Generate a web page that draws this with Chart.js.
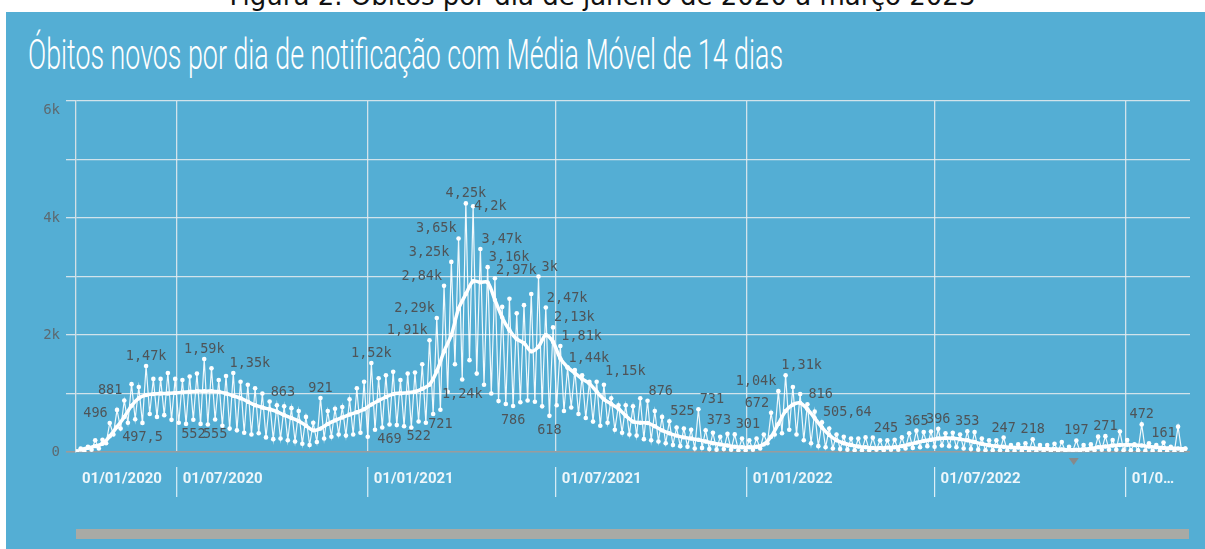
<!DOCTYPE html>
<html lang="pt-BR">
<head>
<meta charset="utf-8">
<title>Óbitos por dia</title>
<script src="https://cdn.jsdelivr.net/npm/chart.js@4.4.1/dist/chart.umd.min.js"></script>
<style>
  html, body { margin: 0; padding: 0; background: #fff; width: 1205px; height: 549px; overflow: hidden; }
  #legenda { position: absolute; left: 0; width: 1205px; top: -14px; text-align: center; white-space: nowrap;
             font-family: "DejaVu Sans"; font-size: 21px; line-height: 21px; color: #111; }
  #painel { position: absolute; left: 6px; top: 12px; right: 0; bottom: 0; background: #54aed4; }
  #titulo { position: absolute; left: 28px; top: 34px; white-space: nowrap; transform-origin: 0 0;
            font-family: Roboto; font-weight: 300; font-size: 42px; line-height: 42px; color: #fff; }
  #rolagem { position: absolute; left: 76px; width: 1113px; top: 529px; height: 10px; background: #a9aaa5; }
  #grafico { position: absolute; left: 0; top: 0; }
</style>
</head>
<body>
<div id="legenda"><span>Figura 2. Óbitos por dia de janeiro de 2020 a março 2023</span></div>
<div id="painel"></div>
<div id="titulo">Óbitos novos por dia de notificação com Média Móvel de 14 dias</div>
<div id="rolagem"></div>
<canvas id="grafico" width="1205" height="549"></canvas>
<script>
// primeira semana da série (dia de menor registro de cada semana)
const inicioSerie = '2020-03-27';

// maior valor diário de cada semana
const obitosAltos = [
  60, 90, 200, 210, 496, 720, 881, 1160, 1110, 1470,
  1250, 1250, 1350, 1250, 1230, 1290, 1340, 1590, 1430, 1230,
  1300, 1350, 1200, 1150, 1090, 1000, 863, 800, 780, 750,
  700, 600, 500, 921, 700, 740, 770, 900, 1090, 1200,
  1520, 1260, 1310, 1370, 1230, 1340, 1360, 1500, 1910, 2290,
  2840, 3250, 3650, 4250, 4200, 3470, 3160, 2970, 2480, 2620,
  2370, 2510, 2700, 3000, 2470, 2130, 1810, 1440, 1400, 1310,
  1200, 1200, 1150, 920, 800, 800, 780, 920, 876, 700,
  600, 525, 420, 400, 380, 731, 373, 330, 260, 310,
  301, 230, 200, 230, 300, 672, 1040, 1310, 1110, 990,
  816, 690, 505.64, 400, 300, 260, 230, 230, 250, 245,
  200, 200, 210, 250, 320, 365, 340, 350, 396, 320,
  330, 300, 353, 340, 230, 200, 200, 247, 120, 130,
  150, 218, 120, 120, 140, 170, 90, 197, 120, 130,
  262, 271, 205, 350, 205, 130, 472, 150, 120, 161,
  91, 433, 60
];

// menor valor diário de cada semana
const obitosBaixos = [
  10, 20, 40, 60, 150, 300, 400, 500, 560, 497.5,
  650, 600, 630, 550, 500, 480, 552, 480, 470, 555,
  450, 400, 370, 330, 300, 320, 250, 220, 230, 200,
  180, 140, 120, 170, 230, 260, 300, 280, 300, 330,
  260, 380, 420, 469, 460, 440, 420, 522, 500, 650,
  721, 1030, 1500, 1240, 1570, 1340, 1150, 1000, 870, 820,
  786, 850, 880, 860, 780, 618, 800, 700, 760, 650,
  580, 520, 450, 500, 380, 330, 300, 280, 220, 200,
  180, 150, 120, 100, 90, 60, 70, 50, 40, 50,
  40, 30, 30, 40, 60, 150, 300, 320, 380, 300,
  200, 150, 100, 80, 60, 50, 40, 30, 30, 30,
  40, 30, 40, 40, 60, 70, 80, 100, 90, 110,
  100, 80, 60, 50, 40, 30, 30, 30, 20, 20,
  20, 20, 15, 15, 15, 15, 10, 10, 15, 20,
  30, 40, 40, 40, 30, 30, 30, 20, 20, 20,
  15, 15, 10
];

// média móvel de 14 dias (um valor por semana)
const mediaMovel = [
  40, 70, 100, 140, 270, 430, 600, 790, 920, 975,
  990, 1000, 1000, 1010, 1020, 1030, 1040, 1040, 1040, 1030,
  1000, 960, 920, 860, 800, 760, 730, 690, 630, 580,
  530, 450, 370, 400, 480, 540, 590, 640, 680, 730,
  810, 880, 940, 990, 1005, 1015, 1030, 1080, 1150, 1380,
  1720, 2000, 2450, 2700, 2920, 2900, 2900, 2600, 2300, 2080,
  1930, 1860, 1720, 1800, 2000, 1880, 1600, 1450, 1350, 1250,
  1170, 1030, 900, 820, 740, 620, 520, 500, 495, 440,
  370, 320, 280, 250, 230, 210, 180, 150, 130, 110,
  90, 80, 80, 90, 130, 260, 480, 700, 810, 840,
  730, 580, 420, 290, 200, 150, 120, 95, 80, 70,
  70, 75, 80, 100, 130, 160, 190, 210, 230, 240,
  235, 220, 200, 170, 140, 115, 100, 90, 80, 75,
  70, 65, 60, 55, 50, 45, 40, 40, 45, 60,
  80, 95, 110, 120, 125, 120, 110, 95, 80, 70,
  65, 60, 55
];

// semanas cujos valores aparecem escritos no gráfico
const semanasRotuloAlto = [4, 6, 9, 17, 21, 26, 33, 40, 48, 49, 50, 51, 52, 53, 54, 55, 56, 57,
  63, 64, 65, 66, 67, 72, 78, 81, 85, 86, 90, 95, 96, 97, 100, 102, 109, 115, 118, 122,
  127, 131, 137, 141, 146, 149];
const semanasRotuloBaixo = [9, 16, 19, 43, 47, 50, 53, 60, 65];

// eixos
const inicioEixo = '2020-03-26';
const fimEixo = '2023-03-04';
const marcosEixoX = ['2020-01-01', '2020-07-01', '2021-01-01', '2021-07-01', '2022-01-01', '2022-07-01', '2023-01-01'];
const rotulosEixoX = ['01/01/2020', '01/07/2020', '01/01/2021', '01/07/2021', '01/01/2022', '01/07/2022', '01/0…'];
const marcasEixoY = [0, 2000, 4000, 6000];
const rotulosEixoY = ['0', '2k', '4k', '6k'];
const dataMarcador = '2022-11-12';

// dias contados a partir de 01/01/2020
function dia(texto) {
  const p = texto.split('-').map(Number);
  return (Date.UTC(p[0], p[1] - 1, p[2]) - Date.UTC(2020, 0, 1)) / 86400000;
}
const dia0 = dia(inicioSerie);
const diaBaixo = i => dia0 + 7 * i;
const diaAlto = i => dia0 + 7 * i + 3.5;

function formatarRotulo(v) {
  if (v >= 1000) return String(+(v / 1000).toFixed(2)).replace('.', ',') + 'k';
  return String(v).replace('.', ',');
}

const serieDiaria = [];
obitosBaixos.forEach(function(v, i) {
  serieDiaria.push({x: diaBaixo(i), y: v});
  serieDiaria.push({x: diaAlto(i), y: obitosAltos[i]});
});
const serieMedia = mediaMovel.map((v, i) => ({x: diaAlto(i), y: v}));

// títulos em HTML: ajusta largura
const titulo = document.getElementById('titulo');
titulo.style.transform = 'scaleX(' + (755 / titulo.getBoundingClientRect().width) + ')';
const legenda = document.getElementById('legenda');
const larguraLegenda = legenda.firstChild.getBoundingClientRect().width;
const fonteLegenda = 21 * 746 / larguraLegenda;
legenda.style.fontSize = fonteLegenda + 'px';
legenda.style.lineHeight = fonteLegenda + 'px';
legenda.style.top = (4.5 - 0.846 * fonteLegenda) + 'px';

const corGrade = 'rgba(232,236,238,0.85)';

const desenhoExtra = {
  id: 'desenhoExtra',
  afterDatasetsDraw(chart) {
    const ctx = chart.ctx, a = chart.chartArea, x = chart.scales.x, y = chart.scales.y;
    ctx.save();

    // rótulos do eixo Y
    ctx.font = '14px "DejaVu Sans Mono"';
    ctx.fillStyle = '#5d6a71';
    ctx.textAlign = 'right';
    ctx.textBaseline = 'middle';
    marcasEixoY.forEach(function(v, k) {
      const py = Math.max(y.getPixelForValue(v), a.top + 9);
      ctx.fillText(rotulosEixoY[k], a.left - 16, py);
    });

    // rótulos do eixo X e separadores
    ctx.font = 'bold 15px Roboto';
    ctx.fillStyle = 'rgba(255,255,255,0.9)';
    ctx.strokeStyle = 'rgba(255,255,255,0.8)';
    ctx.lineWidth = 1.2;
    ctx.textAlign = 'left';
    marcosEixoX.forEach(function(d, k) {
      const px = x.getPixelForValue(dia(d));
      const inicio = Math.max(px, a.left);
      if (px > a.left) {
        ctx.beginPath();
        ctx.moveTo(px, a.bottom + 15);
        ctx.lineTo(px, a.bottom + 45);
        ctx.stroke();
      }
      ctx.fillText(rotulosEixoX[k], inicio + 6, a.bottom + 27);
    });

    // marcador triangular sob o eixo
    const mx = x.getPixelForValue(dia(dataMarcador));
    ctx.fillStyle = '#86898a';
    ctx.beginPath();
    ctx.moveTo(mx - 5, a.bottom + 6);
    ctx.lineTo(mx + 5, a.bottom + 6);
    ctx.lineTo(mx, a.bottom + 13);
    ctx.closePath();
    ctx.fill();

    // rótulos de dados
    ctx.font = '13.5px "DejaVu Sans Mono"';
    ctx.fillStyle = '#4e5458';
    ctx.textBaseline = 'alphabetic';
    let ultimo = null;
    semanasRotuloAlto.forEach(function(i) {
      const v = obitosAltos[i];
      const px = x.getPixelForValue(diaAlto(i)), py = y.getPixelForValue(v);
      const t = formatarRotulo(v), w = ctx.measureText(t).width;
      const ant = obitosAltos[i - 1], prox = obitosAltos[i + 1];
      const pico = v > ant && v > prox;
      let x0, base = py - 6;
      if (pico) x0 = px - w / 2;
      else if (v > ant) x0 = px - 2 - w;
      else x0 = px + 1;
      const sobrepoe = ultimo && x0 < ultimo.x1 - 3 && x0 + w > ultimo.x0 &&
        base - 11 < ultimo.base + 6 && base > ultimo.base - 17;
      if (sobrepoe) {
        if (pico) x0 = ultimo.x1 + 5;
        else base = ultimo.base + 13;
      }
      ctx.fillText(t, x0, base);
      ultimo = {x0: x0, x1: x0 + w, base: base};
    });
    ctx.textAlign = 'center';
    ctx.textBaseline = 'top';
    semanasRotuloBaixo.forEach(function(i) {
      const v = obitosBaixos[i];
      ctx.fillText(formatarRotulo(v), x.getPixelForValue(diaBaixo(i)), y.getPixelForValue(v) + 8);
    });
    ctx.restore();
  }
};

new Chart(document.getElementById('grafico').getContext('2d'), {
  type: 'line',
  data: {
    datasets: [{
      label: 'Média Móvel de 14 dias',
      data: serieMedia,
      borderColor: '#ffffff',
      borderWidth: 3.5,
      pointRadius: 2.2,
      pointBackgroundColor: '#ffffff',
      pointBorderWidth: 0,
      tension: 0.3
    }, {
      label: 'Óbitos novos',
      data: serieDiaria,
      borderColor: 'rgba(255,255,255,0.92)',
      borderWidth: 1.2,
      pointRadius: 2.3,
      pointBackgroundColor: '#ffffff',
      pointBorderWidth: 0,
      tension: 0
    }]
  },
  options: {
    responsive: false,
    animation: false,
    events: [],
    layout: {padding: {left: 66, right: 15, top: 101, bottom: 97}},
    plugins: {legend: {display: false}, tooltip: {enabled: false}},
    scales: {
      x: {
        type: 'linear',
        min: dia(inicioEixo),
        max: dia(fimEixo),
        afterBuildTicks: function(s) {
          s.ticks = marcosEixoX.map(d => ({value: dia(d)})).filter(t => t.value > s.min && t.value < s.max);
        },
        ticks: {display: false},
        grid: {color: corGrade, lineWidth: 1.3, drawTicks: false},
        border: {display: false}
      },
      y: {
        min: 0,
        max: 6000,
        ticks: {display: false, stepSize: 1000},
        grid: {
          color: c => (c.tick && c.tick.value === 0 ? '#9a9c9d' : corGrade),
          lineWidth: c => (c.tick && c.tick.value === 0 ? 1.6 : 1.3),
          drawTicks: true,
          tickLength: 10
        },
        border: {display: true, color: 'rgba(225,230,232,0.9)', width: 1.3}
      }
    }
  },
  plugins: [desenhoExtra]
});
</script>
</body>
</html>
